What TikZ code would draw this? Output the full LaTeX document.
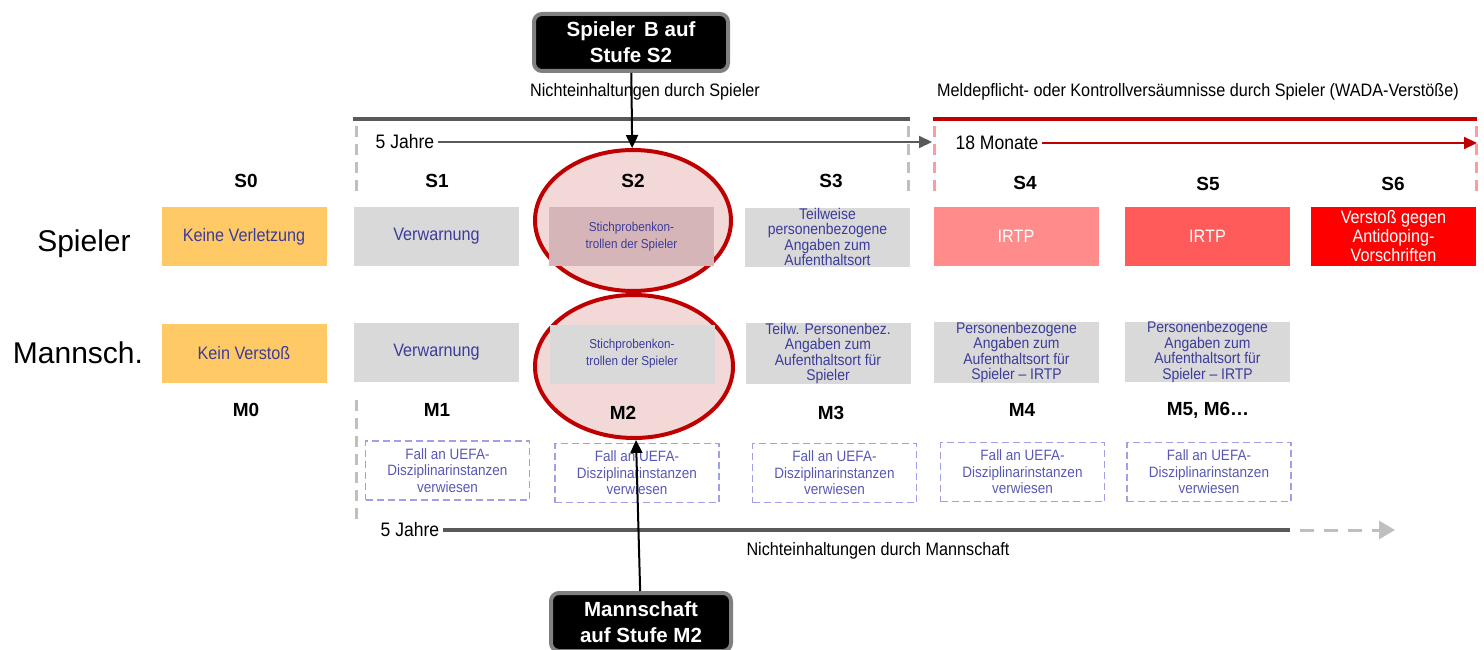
\documentclass[tikz,border=0pt]{standalone}
\usepackage{fontspec}
\setmainfont{Liberation Sans}
\newfontfamily\narrowfont[FakeStretch=0.9]{Liberation Sans}
\usetikzlibrary{shapes.geometric, arrows.meta}
\definecolor{boxgray}{HTML}{D9D9D9}
\definecolor{boxorange}{HTML}{FFC966}
\definecolor{boxtext}{HTML}{3C3C9A}
\definecolor{ringred}{HTML}{C00000}
\definecolor{ringfill}{HTML}{F3D8D8}
\definecolor{ringbox}{HTML}{D5B5B7}
\definecolor{irtplight}{HTML}{FF8B8B}
\definecolor{irtpdark}{HTML}{FF5B5B}
\definecolor{dopingred}{HTML}{FF0000}
\definecolor{casedash}{HTML}{A0A0E6}
\definecolor{casetext}{HTML}{5858B4}
\definecolor{linegray}{HTML}{595959}
\definecolor{dashgray}{HTML}{BFBFBF}
\definecolor{dashpink}{HTML}{FF9B9B}
\tikzset{
  stagebox/.style = {rectangle, minimum width=165pt, minimum height=59pt, inner sep=0pt, align=center,
    text=boxtext, fill=boxgray, font=\narrowfont\fontsize{18}{20}\selectfont},
  stagesmall/.style = {stagebox, font=\narrowfont\fontsize{15.5}{15.5}\selectfont},
  stagetiny/.style = {stagebox, font=\narrowfont\fontsize{13}{17}\selectfont},
  casebox/.style = {rectangle, draw=casedash, line width=1.8pt, dash pattern=on 7pt off 4pt,
    minimum width=164pt, minimum height=59pt, align=center, text=casetext,
    font=\narrowfont\fontsize{15}{16.5}\selectfont},
  lvl/.style = {font=\bfseries\fontsize{19}{22}\selectfont},
  rowname/.style = {font=\fontsize{30}{32}\selectfont},
  callout/.style = {rectangle, rounded corners=8pt, fill=black, draw=gray, line width=4pt,
    text=white, align=center, font=\bfseries\fontsize{20.5}{26}\selectfont},
  ring/.style = {ellipse, draw=ringred, line width=4pt, fill=ringfill, inner sep=0pt},
  note/.style = {font=\narrowfont\fontsize{18}{20}\selectfont},
  span/.style = {font=\narrowfont\fontsize{19.5}{20}\selectfont},
  arrow/.style = {line width=2pt, -{Triangle[length=13pt, width=12pt]}},
  limit/.style = {line width=3pt, dash pattern=on 11pt off 7pt}
}

\begin{document}
\begin{tikzpicture}[x=1pt, y=-1pt]
\useasboundingbox (0,0) rectangle (1484,650);

% the two marked stages
\node[ring, minimum width=196pt, minimum height=141pt] (ring1) at (633,220.5) {};
\node[ring, minimum width=198pt, minimum height=143pt] (ring2) at (634,366.5) {};

\node[callout, minimum width=194pt, minimum height=57pt] (callS) at (631,42.5) {Spieler\, B auf\\Stufe S2};
\node[callout, minimum width=180pt, minimum height=58pt] (callM) at (641,622) {Mannschaft\\auf Stufe M2};

% player periods
\node[note] (hdrS) at (645,92) {Nichteinhaltungen durch Spieler};
\node[note] (hdrW) at (1198,92) {Meldepflicht- oder Kontrollversäumnisse durch Spieler (WADA-Verstöße)};
\draw[line width=4pt, linegray] (353,119) -- (910,119);
\draw[line width=4pt, ringred] (933,119) -- (1477,119);
\draw[limit, dashgray] (356,126) -- (356,192);
\draw[limit, dashgray] (908,126) -- (908,192);
\draw[limit, dashpink] (934,126) -- (934,192);
\draw[limit, dashpink] (1476,126) -- (1476,192);
\draw[limit, dashgray] (356,400) -- (356,522);

\node[span] (yrsS) at (405,142) {5 Jahre};
\coordinate (yrsSend) at (932,142);
\draw[arrow, linegray] (yrsS) -- (yrsSend);
\node[span] (mon) at (997,143) {18 Monate};
\coordinate (monend) at (1477,143);
\draw[arrow, ringred] (mon) -- (monend);

\foreach \name/\x/\y in {S0/246/181, S1/437/181, S2/633/181, S3/831/181, S4/1025/183, S5/1208/184, S6/1393/184}
  \node[lvl] (lbl\name) at (\x,\y) {\name};

\node[rowname] (rowS) at (84,244) {Spieler};
\node[rowname] (rowM) at (78,353) {Mannsch.};

% player row
\node[stagebox, fill=boxorange] (s0) at (244,236.5) {Keine Verletzung};
\node[stagebox] (s1) at (436.5,236.5) {Verwarnung};
\node[stagetiny, fill=ringbox] (s2) at (631.5,236.5) {Stichprobenkon-\\trollen der Spieler};
\node[stagesmall] (s3) at (827.5,237) {Teilweise\\personenbezogene\\Angaben zum\\Aufenthaltsort};
\node[stagebox, fill=irtplight, text=white] (s4) at (1016,236.5) {IRTP};
\node[stagebox, fill=irtpdark, text=white] (s5) at (1207.5,236.5) {IRTP};
\node[stagebox, fill=dopingred, text=white, font=\narrowfont\fontsize{18}{19}\selectfont] (s6) at (1393.5,236.5) {Verstoß gegen\\Antidoping-\\Vorschriften};

% team row
\node[stagebox, fill=boxorange] (m0) at (244,353.5) {Kein Verstoß};
\node[stagebox] (m1) at (436.5,352.5) {Verwarnung};
\node[stagetiny] (m2) at (632,354) {Stichprobenkon-\\trollen der Spieler};
\node[stagesmall] (m3) at (828,353.5) {Teilw. Personenbez.\\Angaben zum\\Aufenthaltsort für\\Spieler};
\node[stagesmall] (m4) at (1016.5,352.5) {Personenbezogene\\Angaben zum\\Aufenthaltsort für\\Spieler – IRTP};
\node[stagesmall] (m5) at (1207.5,352) {Personenbezogene\\Angaben zum\\Aufenthaltsort für\\Spieler – IRTP};

\foreach \name/\x/\y in {M0/246/410, M1/437/410, M2/623/413, M3/831/413, M4/1022/410}
  \node[lvl] (lbl\name) at (\x,\y) {\name};
\node[lvl] (lblM5) at (1208,410) {M5, M6…};

\foreach \id/\x/\y in {1/447.5/470.5, 2/637/473, 3/834.5/473, 4/1022.5/472, 5/1209/472}
  \node[casebox] (case\id) at (\x,\y) {Fall an UEFA-\\Disziplinarinstanzen\\verwiesen};

% team period
\node[span] (yrsM) at (410,530) {5 Jahre};
\coordinate (yrsMend) at (1290,530);
\coordinate (yrsMdash) at (1300,530);
\coordinate (yrsMtip) at (1395,530);
\draw[line width=4pt, linegray] (yrsM) -- (yrsMend);
\draw[line width=3pt, dashgray, dash pattern=on 14pt off 10pt, -{Triangle[length=16pt, width=18pt]}] (yrsMdash) -- (yrsMtip);
\node[note] (ftM) at (878,551) {Nichteinhaltungen durch Mannschaft};

\draw[arrow] (callS) -- (ring1);
\draw[arrow] (callM) -- (ring2);
\end{tikzpicture}
\end{document}
